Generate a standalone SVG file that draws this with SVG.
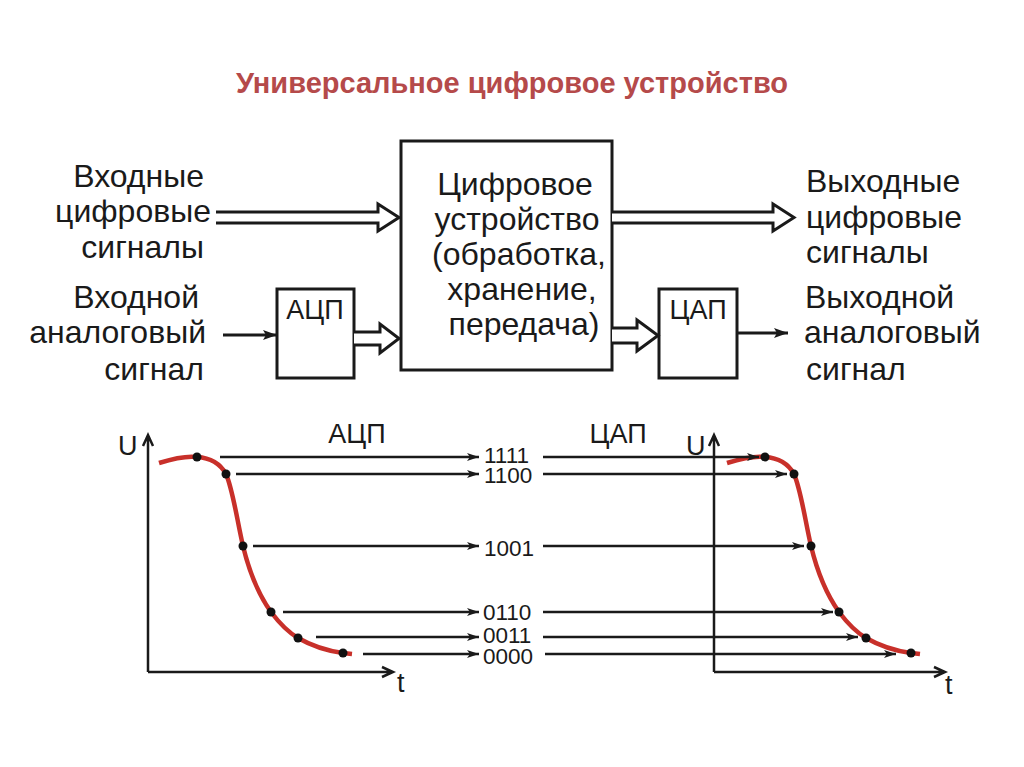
<svg xmlns="http://www.w3.org/2000/svg" width="1024" height="767" viewBox="0 0 1024 767">
<defs>
<style>
.t{font-family:"Liberation Sans",Arial,sans-serif;font-size:32px;fill:#1a1a1a}
.lbl{font-family:"Liberation Sans",Arial,sans-serif;font-size:27px;fill:#1a1a1a}
.num{font-family:"Liberation Sans",Arial,sans-serif;font-size:22.5px;fill:#1a1a1a}
.title{font-family:"Liberation Sans",Arial,sans-serif;font-size:29px;font-weight:bold;fill:#b54a4a}
.box{fill:#fff;stroke:#1a1a1a;stroke-width:3}
.hol{fill:#fff;stroke:#1a1a1a;stroke-width:3;stroke-linejoin:miter}
.ln{stroke:#1a1a1a;stroke-width:3;fill:none}
.gl{stroke:#1a1a1a;stroke-width:2.5;fill:none}
.ax{stroke:#1a1a1a;stroke-width:2.5;fill:none}
.curve{stroke:#c8302a;stroke-width:4.5;fill:none;stroke-linecap:butt}
.dot{fill:#111}
</style>
<marker id="ah" viewBox="0 0 12 8" refX="12" refY="4" markerWidth="12" markerHeight="8" markerUnits="userSpaceOnUse" orient="auto">
<path d="M0,0 L12,4 L0,8 L3,4 Z" fill="#1a1a1a"/>
</marker>
<marker id="ah2" viewBox="0 0 14 10" refX="14" refY="5" markerWidth="14" markerHeight="10" markerUnits="userSpaceOnUse" orient="auto">
<path d="M0,0 L14,5 L0,10 L3,5 Z" fill="#1a1a1a"/>
</marker>
</defs>
<rect width="1024" height="767" fill="#fff"/>

<text class="title" x="512" y="93" text-anchor="middle">Универсальное цифровое устройство</text>

<g id="in-digital-label">
<text class="t" x="204" y="187" text-anchor="end">Входные</text>
<text class="t" x="211" y="222" text-anchor="end">цифровые</text>
<text class="t" x="204" y="258" text-anchor="end">сигналы</text>
</g>
<g id="in-analog-label">
<text class="t" x="199" y="308" text-anchor="end">Входной</text>
<text class="t" x="206" y="343" text-anchor="end">аналоговый</text>
<text class="t" x="204" y="380" text-anchor="end">сигнал</text>
</g>

<g id="device">
<rect class="box" x="401" y="141" width="211" height="229"/>
<text class="t" x="515" y="195" text-anchor="middle">Цифровое</text>
<text class="t" x="517" y="230" text-anchor="middle">устройство</text>
<text class="t" x="519" y="265" text-anchor="middle">(обработка,</text>
<text class="t" x="522" y="300" text-anchor="middle">хранение,</text>
<text class="t" x="524" y="335" text-anchor="middle">передача)</text>
</g>

<g id="adc">
<rect class="box" x="277" y="289" width="77" height="89"/>
<text class="lbl" x="315" y="319" text-anchor="middle">АЦП</text>
</g>
<g id="dac">
<rect class="box" x="659" y="289" width="78" height="89"/>
<text class="lbl" x="698" y="319" text-anchor="middle">ЦАП</text>
</g>

<g id="out-digital-label">
<text class="t" x="806" y="192">Выходные</text>
<text class="t" x="806" y="228">цифровые</text>
<text class="t" x="806" y="263">сигналы</text>
</g>
<g id="out-analog-label">
<text class="t" x="805" y="308">Выходной</text>
<text class="t" x="804" y="343">аналоговый</text>
<text class="t" x="806" y="380">сигнал</text>
</g>

<g id="connectors">
<path class="hol" d="M216,212 L378,212 L378,204 L399,217.5 L378,231 L378,223 L216,223"/>
<path class="hol" d="M354,332 L380,332 L380,324 L399,338.5 L380,353 L380,345 L354,345"/>
<path class="hol" d="M612,212 L773,212 L773,204 L794,217.5 L773,231 L773,223 L612,223"/>
<path class="hol" d="M612,328 L637,328 L637,320 L658,335.5 L637,351 L637,343 L612,343"/>
<line class="ln" x1="223" y1="335" x2="277" y2="335" marker-end="url(#ah2)"/>
<line class="ln" x1="737" y1="333" x2="788" y2="333" marker-end="url(#ah2)"/>
</g>

<g id="graph-left">
<path class="ax" d="M148,672 L148,435 M143,446 L148,435 L153,446 M148,672 L393,672 M382,667 L393,672 L382,677"/>
<text class="lbl" x="118" y="455">U</text>
<text class="lbl" x="397" y="692">t</text>
<path class="curve" d="M159,463 C175,458 190,456 197,457 C212,458 221,465 226,474 C233,490 237,520 243,546 C250,575 259,595 271,612 C280,624 288,632 298,638 C312,646 328,651 343,653 L352,654"/>
<circle class="dot" cx="197" cy="457" r="4.5"/>
<circle class="dot" cx="226" cy="474" r="4.5"/>
<circle class="dot" cx="243" cy="546" r="4.5"/>
<circle class="dot" cx="271" cy="612" r="4.5"/>
<circle class="dot" cx="298" cy="638" r="4.5"/>
<circle class="dot" cx="343" cy="653" r="4.5"/>
</g>

<g id="graph-right">
<path class="ax" d="M714,672 L714,435 M709,446 L714,435 L719,446 M714,672 L945,672 M934,667 L945,672 L934,677"/>
<text class="lbl" x="686" y="455">U</text>
<text class="lbl" x="945" y="694">t</text>
<g transform="translate(568,0)">
<path class="curve" d="M159,463 C175,458 190,456 197,457 C212,458 221,465 226,474 C233,490 237,520 243,546 C250,575 259,595 271,612 C280,624 288,632 298,638 C312,646 328,651 343,653 L352,654"/>
<circle class="dot" cx="197" cy="457" r="4.5"/>
<circle class="dot" cx="226" cy="474" r="4.5"/>
<circle class="dot" cx="243" cy="546" r="4.5"/>
<circle class="dot" cx="271" cy="612" r="4.5"/>
<circle class="dot" cx="298" cy="638" r="4.5"/>
<circle class="dot" cx="343" cy="653" r="4.5"/>
</g>
</g>

<text class="lbl" x="357" y="443" text-anchor="middle">АЦП</text>
<text class="lbl" x="618" y="443" text-anchor="middle">ЦАП</text>

<g id="code-lines">
<line class="gl" x1="220" y1="457" x2="479" y2="457" marker-end="url(#ah)"/>
<line class="gl" x1="236" y1="474" x2="479" y2="474" marker-end="url(#ah)"/>
<line class="gl" x1="253" y1="546" x2="479" y2="546" marker-end="url(#ah)"/>
<line class="gl" x1="283" y1="612" x2="479" y2="612" marker-end="url(#ah)"/>
<line class="gl" x1="316" y1="637" x2="479" y2="637" marker-end="url(#ah)"/>
<line class="gl" x1="363" y1="654" x2="479" y2="654" marker-end="url(#ah)"/>
<line class="gl" x1="543" y1="457" x2="759" y2="457" marker-end="url(#ah)"/>
<line class="gl" x1="543" y1="474" x2="787" y2="474" marker-end="url(#ah)"/>
<line class="gl" x1="543" y1="546" x2="804" y2="546" marker-end="url(#ah)"/>
<line class="gl" x1="543" y1="612" x2="833" y2="612" marker-end="url(#ah)"/>
<line class="gl" x1="543" y1="637" x2="858" y2="637" marker-end="url(#ah)"/>
<line class="gl" x1="545" y1="654" x2="896" y2="654" marker-end="url(#ah)"/>
</g>
<g id="codes">
<text class="num" x="484" y="463">1111</text>
<text class="num" x="484" y="483">1100</text>
<text class="num" x="484" y="556">1001</text>
<text class="num" x="483" y="620">0110</text>
<text class="num" x="483" y="643">0011</text>
<text class="num" x="483" y="664">0000</text>
</g>
</svg>
